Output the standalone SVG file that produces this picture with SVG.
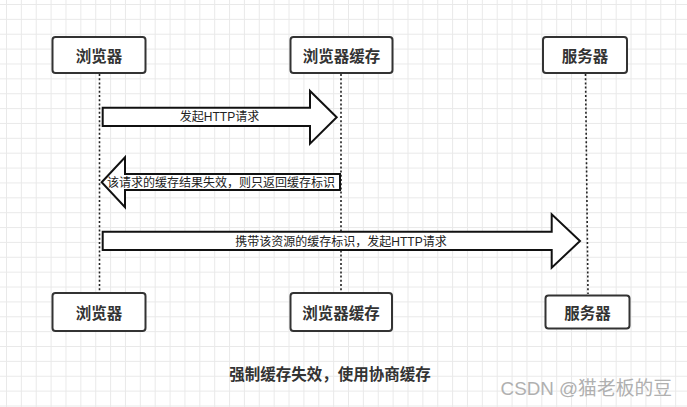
<svg xmlns="http://www.w3.org/2000/svg" width="687" height="407" viewBox="0 0 687 407">
<style>
.box{fill:#fff;stroke:#333;stroke-width:2}
.bt{font-family:"Noto Sans CJK SC","Liberation Sans",sans-serif;font-size:15.5px;font-weight:bold;fill:#333;text-anchor:middle;dominant-baseline:central}
.life{stroke:#222;stroke-width:1.6;stroke-dasharray:2 2.2;fill:none}
.arr{fill:#fff;stroke:#111;stroke-width:2;stroke-linejoin:miter}
.at{font-family:"Liberation Sans","Noto Sans CJK SC",sans-serif;font-size:12px;fill:#222;text-anchor:middle;dominant-baseline:central}
.title{font-family:"Noto Sans CJK SC","Liberation Sans",sans-serif;font-size:15.5px;font-weight:bold;fill:#333;text-anchor:middle;dominant-baseline:central}
.wm{font-family:"Liberation Sans","Noto Sans CJK SC",sans-serif;font-size:18.8px;fill:#b0b0b0;text-anchor:end;dominant-baseline:central}
</style>
<defs>
<pattern id="grid" patternUnits="userSpaceOnUse" x="6" y="4" width="14.87" height="14.87">
<path d="M0 0.5H14.87M0.5 0V14.87" stroke="#e9e9e9" stroke-width="1" fill="none"/>
</pattern>
</defs>
<rect width="687" height="407" fill="#fff"/>
<rect width="687" height="407" fill="url(#grid)"/>
<g id="connectors">
<line class="life" x1="99.5" y1="74" x2="99.5" y2="292"/>
<line class="life" x1="341" y1="74" x2="341" y2="292"/>
<line class="life" x1="585.5" y1="74" x2="588" y2="294"/>
<g id="msg1">
<polygon class="arr" points="102.7,107.7 310,107.7 310,91 336.7,117.3 310,143.6 310,126 102.7,126"/>
<text class="at" x="219.5" y="117">发起HTTP请求</text>
</g>
<g id="msg2">
<polygon class="arr" points="101.7,182.3 125,157.3 125,174 340,174 340,190 125,190 125,207.3"/>
<text class="at" x="221" y="183">该请求的缓存结果失效，则只返回缓存标识</text>
</g>
<g id="msg3">
<polygon class="arr" points="102.7,231.7 551.7,231.7 551.7,214.3 580,241 551.7,267.7 551.7,250 102.7,250"/>
<text class="at" x="341" y="241.5">携带该资源的缓存标识，发起HTTP请求</text>
</g>
</g>
<g id="browser-top">
<rect class="box" x="52.5" y="37" width="93" height="36" rx="3"/>
<text class="bt" x="99" y="55">浏览器</text>
</g>
<g id="cache-top">
<rect class="box" x="290.5" y="37" width="102" height="36" rx="3"/>
<text class="bt" x="341.5" y="55">浏览器缓存</text>
</g>
<g id="server-top">
<rect class="box" x="543" y="37" width="84" height="36" rx="3"/>
<text class="bt" x="585" y="55">服务器</text>
</g>
<g id="browser-bottom">
<rect class="box" x="52.5" y="293" width="93" height="38" rx="3"/>
<text class="bt" x="99" y="312">浏览器</text>
</g>
<g id="cache-bottom">
<rect class="box" x="290.5" y="293" width="101.5" height="38" rx="3"/>
<text class="bt" x="341" y="312">浏览器缓存</text>
</g>
<g id="server-bottom">
<rect class="box" x="545.5" y="295.5" width="84" height="33" rx="3"/>
<text class="bt" x="587.5" y="312">服务器</text>
</g>
<text class="title" x="330" y="373">强制缓存失效，使用协商缓存</text>
<text class="wm" x="672" y="388">CSDN @猫老板的豆</text>
</svg>
